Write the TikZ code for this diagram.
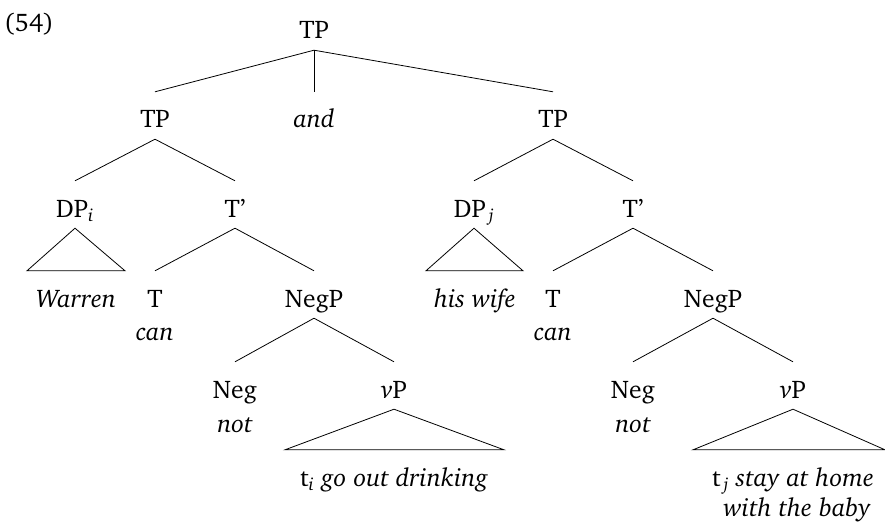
\documentclass[tikz,border=0pt]{standalone}
\usepackage[T1]{fontenc}
\usepackage{charter}
\begin{document}
\begin{tikzpicture}[x=1pt,y=-1pt,
  every node/.style={font=\fontsize{25.5}{30}\selectfont},
  lbl/.style={anchor=base, inner sep=0pt, text height=36pt, text depth=11pt},
  plain/.style={anchor=base, inner sep=0pt},
  edge/.style={line width=0.8pt, line join=miter}]
\useasboundingbox (0,0) rectangle (885,524);

% example number
\node[plain] (num) at (29,32) {(54)};

% top coordination
\node[lbl] (root) at (314,39) {TP};
\node[lbl] (tpL)  at (155,128) {TP};
\node[lbl] (conj) at (314,128) {\itshape and};
\node[lbl] (tpR)  at (553,128) {TP};

% left conjunct
\node[lbl] (dpL)  at (75,217) {DP\textsubscript{\itshape i}};
\node[lbl] (tbL)  at (235,217) {T'};
\node[lbl] (warren) at (76,307) {\itshape Warren};
\node[lbl] (tL)   at (155,307) {T};
\node[lbl] (negpL) at (314,307) {NegP};
\node[plain] (canL) at (155,340) {\itshape can};
\node[lbl] (negL) at (235,398) {Neg};
\node[lbl] (vpL)  at (394,398) {{\itshape v}P};
\node[plain] (notL) at (235,432) {\itshape not};
\node[lbl] (vpLtext) at (394,486) {t\textsubscript{\itshape i} \itshape go out drinking};

% right conjunct
\node[lbl] (dpR)  at (474,217) {DP\textsubscript{\,\itshape j}};
\node[lbl] (tbR)  at (633,217) {T'};
\node[lbl] (wife) at (475,307) {\itshape his wife};
\node[lbl] (tR)   at (553,307) {T};
\node[lbl] (negpR) at (713,307) {NegP};
\node[plain] (canR) at (553,340) {\itshape can};
\node[lbl] (negR) at (633,398) {Neg};
\node[lbl] (vpR)  at (793,398) {{\itshape v}P};
\node[plain] (notR) at (633,432) {\itshape not};
\node[lbl] (vpRtext) at (793,486) {t\textsubscript{\,\itshape j} \itshape stay at home};
\node[plain] (vpRtext2) at (797,516) {\itshape with the baby};

% branches
\draw[edge] (root.south) -- (tpL.north);
\draw[edge] (root.south) -- (conj.north);
\draw[edge] (root.south) -- (tpR.north);

\draw[edge] (tpL.south) -- (dpL.north);
\draw[edge] (tpL.south) -- (tbL.north);
\draw[edge] (tbL.south) -- (tL.north);
\draw[edge] (tbL.south) -- (negpL.north);
\draw[edge] (negpL.south) -- (negL.north);
\draw[edge] (negpL.south) -- (vpL.north);

\draw[edge] (tpR.south) -- (dpR.north);
\draw[edge] (tpR.south) -- (tbR.north);
\draw[edge] (tbR.south) -- (tR.north);
\draw[edge] (tbR.south) -- (negpR.north);
\draw[edge] (negpR.south) -- (negR.north);
\draw[edge] (negpR.south) -- (vpR.north);

% triangles over unanalysed material
\draw[edge] (dpL.south) -- ([xshift=-49pt]warren.north) -- ([xshift=49pt]warren.north) -- cycle;
\draw[edge] (dpR.south) -- ([xshift=-49pt]wife.north) -- ([xshift=48pt]wife.north) -- cycle;
\draw[edge] (vpL.south) -- ([xshift=-109pt]vpLtext.north) -- ([xshift=110pt]vpLtext.north) -- cycle;
\draw[edge] (vpR.south) -- ([xshift=-100pt]vpRtext.north) -- ([xshift=92pt]vpRtext.north) -- cycle;
\end{tikzpicture}
\end{document}
